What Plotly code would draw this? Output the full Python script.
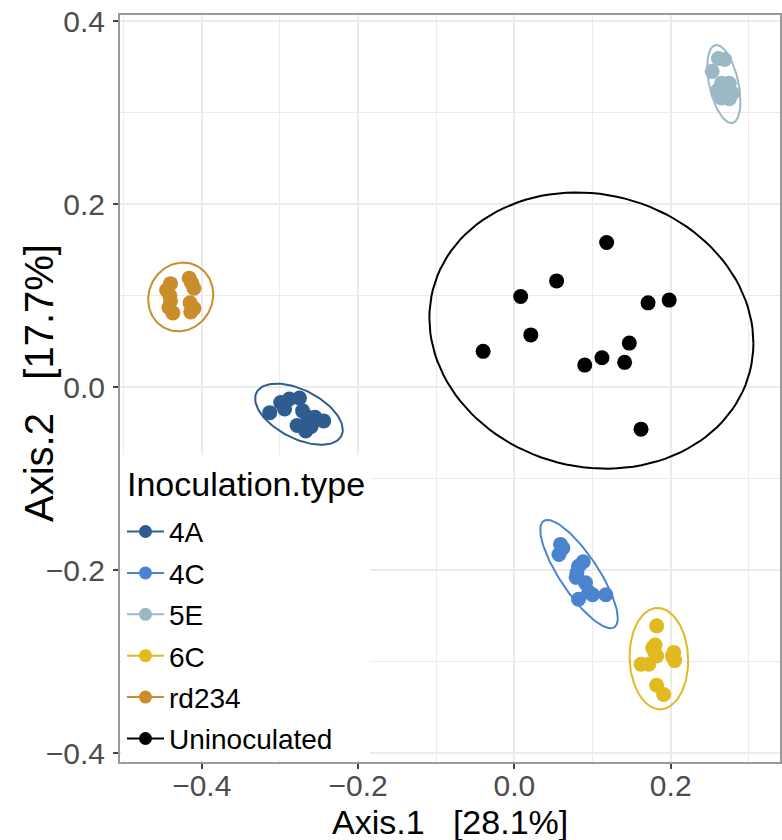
import numpy as np
import plotly.graph_objects as go

groups = ["4A", "4C", "5E", "6C", "rd234", "Uninoculated"]
colors = ["#2F5C8F", "#4A84CF", "#9CB8C7", "#E1BA1F", "#C98E2B", "#000000"]

x_4A = [-0.313, -0.299, -0.288, -0.275, -0.294, -0.271, -0.264, -0.255, -0.278, -0.267, -0.260, -0.244]
y_4A = [-0.028, -0.017, -0.013, -0.012, -0.024, -0.026, -0.033, -0.033, -0.042, -0.048, -0.043, -0.037]

x_4C = [0.059, 0.062, 0.057, 0.088, 0.082, 0.080, 0.079, 0.091, 0.095, 0.100, 0.117, 0.082]
y_4C = [-0.172, -0.176, -0.183, -0.191, -0.196, -0.203, -0.208, -0.214, -0.224, -0.227, -0.227, -0.232]

x_5E = [0.261, 0.269, 0.253, 0.265, 0.275, 0.260, 0.270, 0.279, 0.265, 0.275, 0.270, 0.274]
y_5E = [0.359, 0.358, 0.345, 0.332, 0.332, 0.324, 0.325, 0.321, 0.316, 0.315, 0.320, 0.327]

x_6C = [0.182, 0.180, 0.179, 0.182, 0.204, 0.205, 0.162, 0.172, 0.182, 0.191, 0.202, 0.177]
y_6C = [-0.261, -0.282, -0.289, -0.294, -0.290, -0.299, -0.303, -0.303, -0.326, -0.336, -0.294, -0.285]

x_rd234 = [-0.440, -0.445, -0.441, -0.440, -0.442, -0.437, -0.416, -0.413, -0.410, -0.415, -0.410, -0.414]
y_rd234 = [0.113, 0.106, 0.100, 0.094, 0.087, 0.081, 0.119, 0.114, 0.108, 0.092, 0.086, 0.082]

x_un = [0.118, 0.054, 0.008, 0.171, 0.198, 0.021, -0.040, 0.147, 0.112, 0.090, 0.141, 0.162]
y_un = [0.158, 0.116, 0.099, 0.092, 0.095, 0.057, 0.039, 0.048, 0.032, 0.024, 0.027, -0.046]

data = {
    "4A": (x_4A, y_4A),
    "4C": (x_4C, y_4C),
    "5E": (x_5E, y_5E),
    "6C": (x_6C, y_6C),
    "rd234": (x_rd234, y_rd234),
    "Uninoculated": (x_un, y_un),
}


def ellipse(xs, ys, level=0.95, segments=120):
    # normal-theory 95% data ellipse (as stat_ellipse(type = "norm"))
    pts = np.column_stack([xs, ys])
    center = pts.mean(axis=0)
    shape = np.cov(pts.T)
    dfd = len(xs) - 1
    qf = (dfd / 2.0) * ((1 - level) ** (-2.0 / dfd) - 1)  # F(2, dfd) quantile
    radius = np.sqrt(2 * qf)
    chol = np.linalg.cholesky(shape).T
    ang = np.linspace(0, 2 * np.pi, segments + 1)
    circ = np.column_stack([np.cos(ang), np.sin(ang)])
    e = center + radius * (circ @ chol)
    return e[:, 0], e[:, 1]


fig = go.Figure()
for g, c in zip(groups, colors):
    xs, ys = data[g]
    ex, ey = ellipse(xs, ys)
    fig.add_trace(go.Scatter(x=ex, y=ey, mode="lines", line=dict(color=c, width=2),
                             showlegend=False, hoverinfo="skip"))
    fig.add_trace(go.Scatter(x=xs, y=ys, mode="markers", marker=dict(color=c, size=15),
                             showlegend=False, name=g))
for g, c in zip(groups, colors):
    fig.add_trace(go.Scatter(x=[None], y=[None], mode="lines+markers", name=g,
                             legendgroup=g, line=dict(color=c, width=2),
                             marker=dict(color=c, size=13)))

font = "Liberation Sans, Arial, Helvetica, sans-serif"
grid = "#ebebeb"
axis_common = dict(
    showline=True, mirror=True, linecolor="#9a9a9a", linewidth=2,
    ticks="outside", ticklen=5, tickcolor="#444444", tickwidth=1.5,
    showgrid=True, gridcolor=grid, gridwidth=1.5, zeroline=False, automargin=False,
    tickfont=dict(family=font, size=30, color="#4d4d4d"),
)
fig.update_xaxes(range=[-0.5046, 0.3398], dtick=0.2, tick0=0, tickformat=".1f",
                 ticklabelstandoff=-9,
                 minor=dict(dtick=0.1, tick0=0, showgrid=True, gridcolor=grid, gridwidth=1),
                 **axis_common)
fig.update_yaxes(range=[-0.4098, 0.4066], dtick=0.2, tick0=0, tickformat=".1f",
                 ticklabelstandoff=2,
                 minor=dict(dtick=0.1, tick0=0, showgrid=True, gridcolor=grid, gridwidth=1),
                 **axis_common)

# white legend panel inside the plotting area (as in the ggplot legend box)
fig.add_shape(type="rect", xref="paper", yref="paper", x0=0.0022, x1=0.3788, y0=0.0027, y1=0.411,
              fillcolor="white", line=dict(width=0), layer="above")
fig.add_annotation(text="Inoculation.type", xref="paper", yref="paper",
                   x=0.0076, y=(762 - 484) / 747, xanchor="left", yanchor="middle", showarrow=False,
                   font=dict(family=font, size=34, color="#000000"))
fig.add_annotation(text="Axis.1\u00a0\u00a0\u00a0[28.1%]", xref="paper", yref="paper",
                   x=0.5, y=-0.0803, xanchor="center", yanchor="middle", showarrow=False,
                   font=dict(family=font, size=34, color="#000000"))
fig.add_annotation(text="Axis.2\u00a0\u00a0\u00a0[17.7%]", xref="paper", yref="paper",
                   x=-0.1227, y=0.5074, xanchor="center", yanchor="middle", showarrow=False,
                   textangle=-90, font=dict(family=font, size=40, color="#000000"))
fig.update_layout(
    width=782, height=840,
    margin=dict(l=120, r=2, t=15, b=78, autoexpand=False),
    plot_bgcolor="white", paper_bgcolor="white",
    font=dict(family=font),
    legend=dict(
        x=0.003, y=-0.0024, xanchor="left", yanchor="bottom",
        bgcolor="rgba(255,255,255,0)", borderwidth=0, itemwidth=37,
        font=dict(family=font, size=28, color="#000000"),
        tracegroupgap=2, traceorder="grouped",
    ),
)
fig.write_html("out.html", config={"displayModeBar": False},
               post_script="document.body.style.margin='0';document.body.style.overflow='hidden';")
